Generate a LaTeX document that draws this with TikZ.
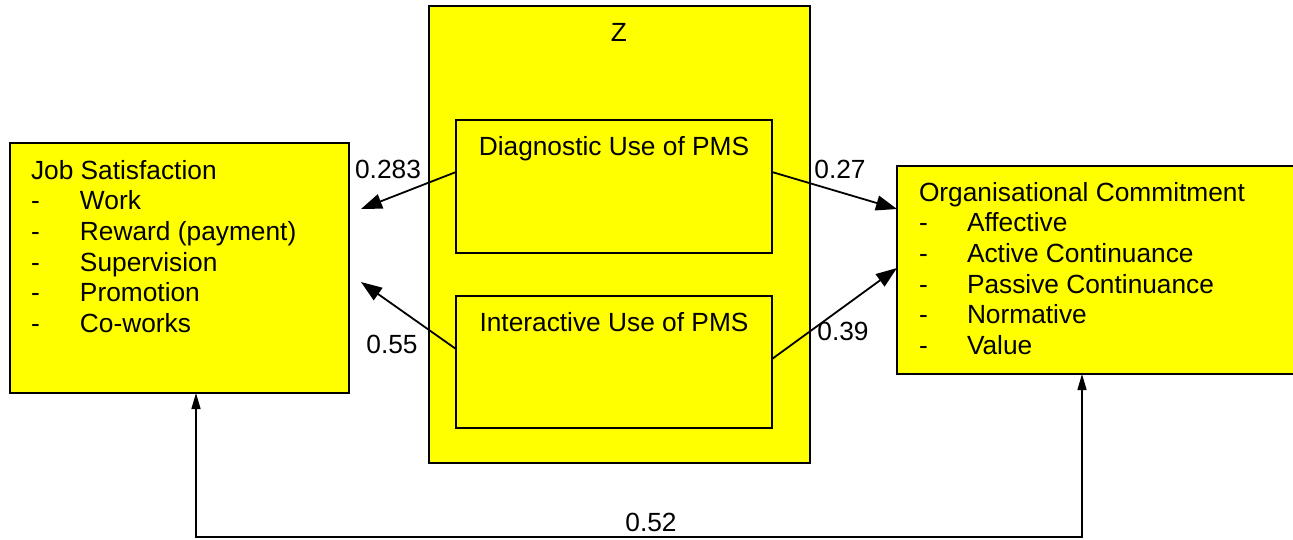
\documentclass[tikz,border=0pt]{standalone}
\usepackage{fontspec}
\setmainfont{Liberation Sans}
\usetikzlibrary{arrows.meta,calc}
\definecolor{boxyellow}{RGB}{255,255,0}
\begin{document}
\begin{tikzpicture}[x=1pt,y=-1pt,
  box/.style={draw=black,fill=boxyellow,line width=1.8pt,inner sep=0pt,outer sep=0pt,anchor=north west},
  txt/.style={inner sep=0pt,outer sep=0pt,anchor=base west,font=\fontsize{26.3}{30.7}\selectfont},
  num/.style={inner sep=0pt,outer sep=0pt,anchor=base,font=\fontsize{26.3}{30.7}\selectfont},
  conn/.style={line width=1.8pt,-{Triangle[length=21pt,width=15pt]}},
  link/.style={line width=1.4pt,{Triangle[length=16pt,width=9pt]}-{Triangle[length=16pt,width=9pt]}}]
\path[clip] (0,0) rectangle (1293,539);
% boxes
\node[box,minimum width=339pt,minimum height=250pt] (js) at (10,143) {};
\node[box,minimum width=381pt,minimum height=457pt] (z) at (429,6) {};
\node[box,minimum width=316pt,minimum height=133pt] (diag) at (456,120) {};
\node[box,minimum width=316pt,minimum height=132pt] (inter) at (456,296) {};
\node[box,minimum width=420pt,minimum height=208pt] (oc) at (897,166) {};
% texts
\node[txt,anchor=base] (zt) at (619,41) {Z};
\node[txt,anchor=base] (dt) at (614,155) {Diagnostic Use of PMS};
\node[txt,anchor=base] (it) at (614,331) {Interactive Use of PMS};
\node[txt] (js0) at (31,179) {Job Satisfaction};
\node[txt] (js1) at (31,209.7) {\makebox[49pt][l]{-}Work};
\node[txt] (js2) at (31,240.4) {\makebox[49pt][l]{-}Reward (payment)};
\node[txt] (js3) at (31,271.1) {\makebox[49pt][l]{-}Supervision};
\node[txt] (js4) at (31,301.8) {\makebox[49pt][l]{-}Promotion};
\node[txt] (js5) at (31,332.5) {\makebox[49pt][l]{-}Co-works};
\node[txt] (oc0) at (919,201) {Organisational Commitment};
\node[txt] (oc1) at (919,231.7) {\makebox[48pt][l]{-}Affective};
\node[txt] (oc2) at (919,262.4) {\makebox[48pt][l]{-}Active Continuance};
\node[txt] (oc3) at (919,293.1) {\makebox[48pt][l]{-}Passive Continuance};
\node[txt] (oc4) at (919,323.8) {\makebox[48pt][l]{-}Normative};
\node[txt] (oc5) at (919,354.5) {\makebox[48pt][l]{-}Value};
% connectors
\draw[conn] ($(diag.north west)+(0,52)$) -- ($(js.north east)+(12,66)$);
\draw[conn] ($(inter.north west)+(0,53)$) -- ($(js.north east)+(12,139)$);
\draw[conn] ($(diag.north east)+(0,52)$) -- ($(oc.north west)+(0,43)$);
\draw[conn] ($(inter.north east)+(0,63)$) -- ($(oc.north west)+(0,102)$);
\coordinate (bl) at (196,537);
\coordinate (br) at (1082,537);
\draw[link] (js.south -| bl) -- (bl) -- (br) -- (oc.south -| br);
% labels
\node[num] (n1) at (388,178) {0.283};
\node[num] (n2) at (392,353) {0.55};
\node[num] (n3) at (840,178) {0.27};
\node[num] (n4) at (843,340) {0.39};
\node[num] (n5) at (651,531) {0.52};
\end{tikzpicture}
\end{document}
